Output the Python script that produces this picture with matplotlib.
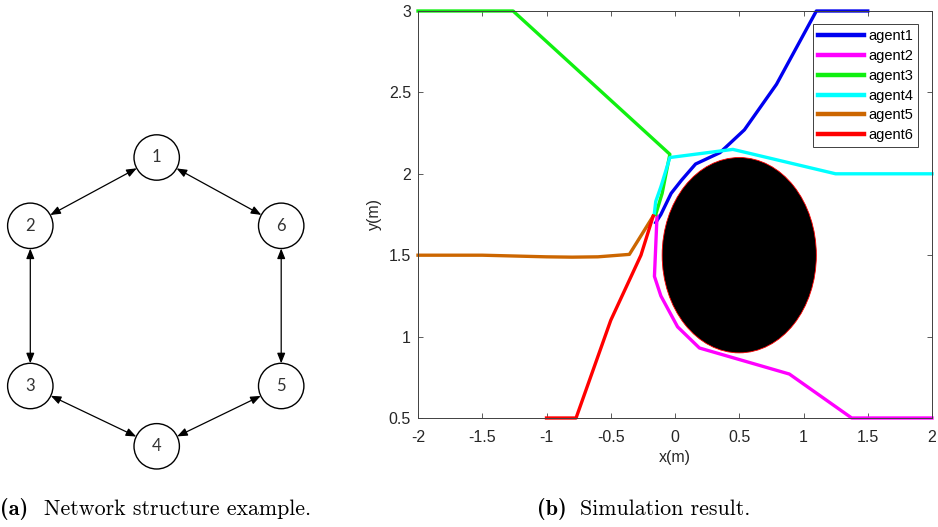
import numpy as np
import matplotlib
matplotlib.use("Agg")
import matplotlib.pyplot as plt
from matplotlib.patches import Circle, Ellipse, FancyArrowPatch

# ==========================
# data
# ==========================
# (a) network: node labels, layout (pixel units), edges
node_labels = ["1", "2", "3", "4", "5", "6"]
node_x = [156.7, 30.3, 30.3, 156.7, 281.2, 281.2]
node_y = [157.5, 225.8, 386.0, 446.3, 386.0, 225.8]
edges = [(0, 1), (1, 2), (2, 3), (3, 4), (4, 5), (5, 0)]
NODE_R = 22.7

# (b) trajectories
agent1_x = [-0.15, -0.11, -0.03, 0.05, 0.16, 0.35, 0.54, 0.79, 1.10, 1.50]
agent1_y = [1.70, 1.75, 1.88, 1.96, 2.06, 2.13, 2.27, 2.55, 3.00, 3.00]

agent2_x = [-0.14, -0.16, -0.11, 0.02, 0.19, 0.89, 1.375, 2.0]
agent2_y = [1.74, 1.37, 1.25, 1.06, 0.93, 0.77, 0.50, 0.50]

agent3_x = [-2.0, -1.26, -0.65, -0.04, -0.10, -0.15]
agent3_y = [3.0, 3.0, 2.56, 2.12, 1.88, 1.75]

agent4_x = [-0.16, -0.15, -0.11, -0.04, 0.45, 1.25, 2.0]
agent4_y = [1.76, 1.83, 1.92, 2.10, 2.15, 2.00, 2.00]

agent5_x = [-2.0, -1.5, -1.0, -0.8, -0.6, -0.355, -0.17]
agent5_y = [1.50, 1.50, 1.49, 1.488, 1.49, 1.505, 1.74]

agent6_x = [-1.0, -0.77, -0.50, -0.265, -0.17]
agent6_y = [0.50, 0.50, 1.10, 1.50, 1.74]

agent_names = ["agent1", "agent2", "agent3", "agent4", "agent5", "agent6"]
agent_colors = ["#0000f0", "#ff00ff", "#10f010", "#00ffff", "#cc6600", "#ff0000"]

obstacle_center = (0.5, 1.5)
obstacle_radius = 0.6

x_ticks = [-2, -1.5, -1, -0.5, 0, 0.5, 1, 1.5, 2]
x_ticklabels = ["-2", "-1.5", "-1", "-0.5", "0", "0.5", "1", "1.5", "2"]
y_ticks = [0.5, 1, 1.5, 2, 2.5, 3]
y_ticklabels = ["0.5", "1", "1.5", "2", "2.5", "3"]

W, H = 938, 527
fig = plt.figure(figsize=(W / 100, H / 100), dpi=100)

# ---------- (a) network ----------
axn = fig.add_axes([0, 0, 418 / W, 1])
axn.set_xlim(0, 418)
axn.set_ylim(H, 0)
axn.axis("off")

for i, lab in enumerate(node_labels):
    axn.add_patch(Circle((node_x[i], node_y[i]), NODE_R, facecolor="white",
                         edgecolor="black", lw=1.0, zorder=3))
    axn.text(node_x[i], node_y[i], lab, ha="center", va="center",
             fontsize=12, family="Lato", color="#333333", zorder=4)

for a, b in edges:
    x0, y0 = node_x[a], node_y[a]
    x1, y1 = node_x[b], node_y[b]
    d = np.hypot(x1 - x0, y1 - y0)
    ux, uy = (x1 - x0) / d, (y1 - y0) / d
    arr = FancyArrowPatch((x0 + ux * NODE_R, y0 + uy * NODE_R),
                          (x1 - ux * NODE_R, y1 - uy * NODE_R),
                          arrowstyle="<|-|>,head_length=0.6,head_width=0.24",
                          mutation_scale=10, lw=0.9, color="black",
                          shrinkA=0, shrinkB=0, zorder=2)
    axn.add_patch(arr)

# ---------- (b) simulation ----------
ax = fig.add_axes([418 / W, 1 - 418 / H, (932 - 418) / W, (418 - 11) / H])
ax.add_patch(Ellipse(obstacle_center, 2 * obstacle_radius, 2 * obstacle_radius,
                     facecolor="black", edgecolor="red", lw=0.6, zorder=1))

xs = [agent1_x, agent2_x, agent3_x, agent4_x, agent5_x, agent6_x]
ys = [agent1_y, agent2_y, agent3_y, agent4_y, agent5_y, agent6_y]
for xv, yv, c, n in zip(xs, ys, agent_colors, agent_names):
    ax.plot(xv, yv, color=c, lw=2.4, label=n, zorder=2, clip_on=False)

ax.set_xlim(-2, 2)
ax.set_ylim(0.5, 3)
ax.set_xticks(x_ticks)
ax.set_xticklabels(x_ticklabels)
ax.set_yticks(y_ticks)
ax.set_yticklabels(y_ticklabels)
ax.tick_params(direction="in", top=True, right=True, length=3.5, width=0.6,
               color="#404040", labelcolor="#262626", labelsize=11.5)
ax.tick_params(axis="x", pad=8.5)
ax.tick_params(axis="y", pad=5)
for lab in ax.get_xticklabels() + ax.get_yticklabels():
    lab.set_family("Liberation Sans")
for s in ax.spines.values():
    s.set_color("#404040")
    s.set_linewidth(0.7)

ax.set_xlabel("x(m)", fontsize=11.5, family="Liberation Sans", color="#262626", labelpad=4)
ax.set_ylabel("y(m)", fontsize=11.5, family="Liberation Sans", color="#262626", labelpad=5)

leg = ax.legend(loc="upper right", bbox_to_anchor=(918 / W, 1 - 24 / H),
                bbox_transform=fig.transFigure, borderaxespad=0,
                prop={"family": "Liberation Sans", "size": 10.5},
                handlelength=3.2, handletextpad=0.25, labelspacing=0.4,
                borderpad=0.35, fancybox=False, framealpha=1)
leg.get_frame().set_edgecolor("#404040")
leg.get_frame().set_linewidth(0.7)
for ln in leg.get_lines():
    ln.set_linewidth(3.2)

# ---------- captions ----------
cap_y = 1 - 515 / H
fig.text(0 / W, cap_y, "(a)", family="cmb10", fontsize=16, va="baseline")
fig.text(44 / W, cap_y, "Network structure example.", family="cmr10", fontsize=15.8, va="baseline")
fig.text(537 / W, cap_y, "(b)", family="cmb10", fontsize=16, va="baseline")
fig.text(580 / W, cap_y, "Simulation result.", family="cmr10", fontsize=15.8, va="baseline")

fig.savefig("out.png", dpi=100)
